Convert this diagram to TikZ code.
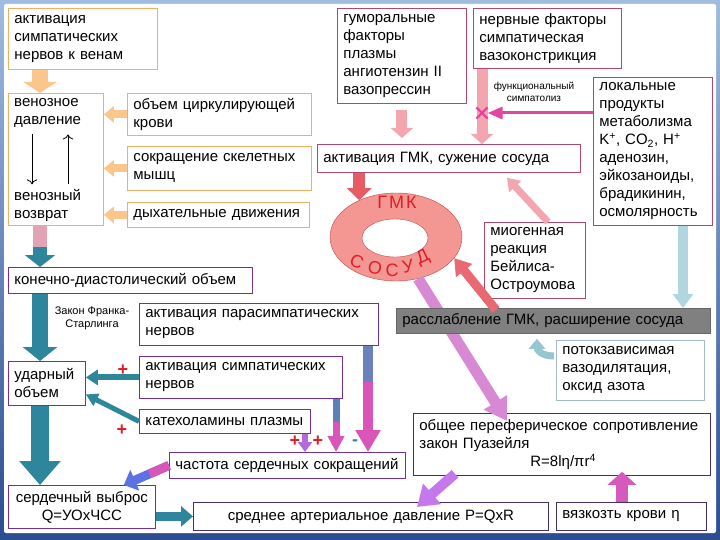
\documentclass[tikz,border=0pt]{standalone}
\usepackage{fontspec}
\setmainfont{Liberation Sans}
\usetikzlibrary{shapes.geometric, shapes.misc, arrows.meta, calc, backgrounds}
\definecolor{CVOrange}{RGB}{240,176,100}
\definecolor{CVOrangeArr}{RGB}{250,198,140}
\definecolor{CVRose}{RGB}{176,72,110}
\definecolor{CVPink}{RGB}{244,166,174}
\definecolor{CVPurple}{RGB}{112,48,160}
\definecolor{CVNavy}{RGB}{64,48,100}
\definecolor{CVTeal}{RGB}{46,134,156}
\definecolor{CVMag}{RGB}{226,70,160}
\definecolor{CVViolet}{RGB}{196,120,236}
\definecolor{CVRed}{RGB}{220,30,40}
\definecolor{CVRing}{RGB}{244,150,146}
\definecolor{CVRingLine}{RGB}{190,70,70}
\definecolor{CVSky}{RGB}{176,214,224}
\definecolor{CVGray}{RGB}{128,128,128}
\definecolor{CVFrameTop}{RGB}{160,188,224}
\definecolor{CVFrameBot}{RGB}{44,76,146}

\begin{document}
\begin{tikzpicture}[x=1pt, y=-1pt,
    box/.style={rectangle, draw, fill=white, anchor=north west, align=left,
                inner xsep=6pt, inner ysep=3pt, line width=0.8pt,
                font=\fontsize{15}{18}\selectfont},
    obox/.style={box, draw=CVOrange},
    rbox/.style={box, draw=CVRose},
    vbox/.style={box, draw=CVPurple},
    nbox/.style={box, draw=CVNavy},
    txt/.style={inner sep=1pt, align=left, font=\fontsize{15}{18}\selectfont},
    blk/.style n args={3}{line width=#1, -{Triangle[width=#2, length=#3]}},
    thinarr/.style={-{To[length=5pt]}, line width=0.8pt},
    sgn/.style={font=\bfseries\fontsize{18}{18}\selectfont}
  ]
  \useasboundingbox (0,0) rectangle (720,540);
  % slide frame
  \begin{pgfonlayer}{background}
    \shade[top color=CVFrameTop, bottom color=CVFrameBot] (0,0) rectangle (720,540);
    \fill[white, rounded corners=2pt] (4,4) rectangle (716,533);
  \end{pgfonlayer}

  % venous side
  \node[obox, text width=137pt, minimum height=61pt] (akt) at (8,8)
       {активация\\симпатических\\нервов к венам};
  \node[obox, minimum width=95pt, minimum height=132pt] (ven) at (8,93) {};
  \node[txt, anchor=north west] (vd) at (13,97) {венозное\\давление};
  \node[txt, anchor=south west] (vv) at (13,223) {венозный\\возврат};
  \draw[thinarr] ($(vd.south west)+(19,6)$) -- ($(vv.north west)+(19,-4)$);
  \draw[thinarr] ($(vv.north west)+(55,-4)$) -- ($(vd.south west)+(55,6)$);
  \node[obox, text width=172pt, minimum height=42pt] (ocr) at (127,93)
       {объем циркулирующей\\крови};
  \node[obox, text width=172pt, minimum height=44pt] (skm) at (127,146)
       {сокращение скелетных\\мышц};
  \node[obox, text width=170pt, minimum height=25pt] (dyx) at (127,202)
       {дыхательные движения};

  % vessel tone
  \node[rbox, text width=117pt, minimum height=95pt] (gum) at (337,8)
       {гуморальные\\факторы\\плазмы\\ангиотензин II\\вазопрессин};
  \node[rbox, text width=136pt, minimum height=60pt] (nerv) at (473,8)
       {нервные факторы\\симпатическая\\вазоконстрикция};
  \node[rbox, text width=107pt, minimum height=148pt] (lok) at (593,77)
       {локальные\\продукты\\метаболизма\\K\textsuperscript{+}, CO\textsubscript{2}, H\textsuperscript{+}\\аденозин,\\эйкозаноиды,\\брадикинин,\\осмолярность};
  \node[rbox, text width=251pt, minimum height=28pt] (gmk) at (317,144)
       {активация ГМК, сужение сосуда};
  \node[rbox, text width=89pt, minimum height=76pt] (miog) at (484,222)
       {миогенная\\реакция\\Бейлиса-\\Остроумова};
  \node[box, draw=CVSky!70!gray, text width=136pt, minimum height=60pt] (potok) at (556,340)
       {потокзависимая\\вазодилятация,\\оксид азота};
  \node[nbox, text width=285pt, minimum height=62pt] (ops) at (413,413)
       {общее переферическое сопротивление\\закон Пуазейля\\\hspace*{111pt}R=8lη/πr\textsuperscript{4}};
  \node[nbox, text width=138pt, minimum height=28pt] (vyaz) at (556,502)
       {вязкозть крови η};
  \node[nbox, align=center, text width=343pt, minimum height=28pt] (sad) at (193,502)
       {среднее артериальное давление P=QxR};

  % heart side
  \node[vbox, text width=232pt, minimum height=26pt] (kdo) at (8,267)
       {конечно-диастолический объем};
  \node[vbox, text width=65pt, minimum height=44pt] (uo) at (8,361)
       {ударный\\объем};
  \node[vbox, text width=227pt, minimum height=42pt] (para) at (139,303)
       {активация парасимпатических\\нервов};
  \node[vbox, text width=191pt, minimum height=42pt] (simp) at (139,356)
       {активация симпатических\\нервов};
  \node[vbox, text width=159pt, minimum height=24pt] (kat) at (139,409)
       {катехоламины плазмы};
  \node[vbox, text width=224pt, minimum height=26pt] (chss) at (169,452)
       {частота сердечных сокращений};
  \node[vbox, align=center, text width=135pt, minimum height=43pt] (sv) at (8,485)
       {сердечный выброс\\Q=УОxЧСС};

  \coordinate (lx) at (40,0);
  \coordinate (lb) at (683,0);
  \coordinate (nv) at ($(nerv.south west)+(9,0)$);
  \coordinate (ly) at ($(lok.north west)+(0,36)$);

  % orange arrows
  \draw[blk={16pt}{33pt}{11pt}, CVOrangeArr] (akt.south -| lx) -- (ven.north -| lx);
  \foreach \n in {ocr, skm, dyx}
    \draw[blk={8pt}{16pt}{10pt}, CVOrangeArr] (\n.west) -- (\n.west -| ven.east);

  % vessel ring
  \node[ellipse, draw=CVRingLine, fill=CVRing, minimum width=132pt, minimum height=88pt] (ring) at (396,237) {};
  \node[ellipse, draw=CVRingLine, fill=white, minimum width=66pt, minimum height=38pt] (hole) at (395,238) {};
  \draw[blk={11pt}{26pt}{22pt}, CVViolet!60!CVPink] (ring.-62) -- ($(ops.north west)+(94,8)$);
  \node[box, fill=CVGray, draw=CVGray!80!black, text width=302pt, minimum height=25pt] (rass) at (396,308)
       {расслабление ГМК, расширение сосуда};
  \node[text=CVRed, font=\fontsize{18}{18}\selectfont] (gmkt) at (397,202) {Г\kern2pt М\kern2pt К};
  \foreach \l/\x/\y/\a [count=\i] in {С/357/262/-25, О/375/268/-12, С/392/270/0, У/408/266/12, Д/423/258/25}
    \node[text=CVRed, font=\fontsize{18}{18}\selectfont, rotate=\a] (sos\i) at (\x,\y) {\l};

  % pink arrows
  \draw[blk={11pt}{22pt}{10pt}, CVPink, shorten <=6pt, shorten >=6pt] (gum.south) -- (gum.south |- gmk.north);
  \draw[blk={11pt}{22pt}{10pt}, CVPink] (nv) -- (nv |- gmk.north);
  \node[cross out, draw=CVMag, line width=2.2pt, minimum size=9pt, inner sep=0pt] (sx) at (nv |- ly) {};
  \draw[CVMag, line width=3pt, -{Triangle[width=12pt, length=15pt]}] (ly) -- (sx.east);
  \node[font=\fontsize{10}{12}\selectfont, align=center] (fsl) at (534,92) {функциональный\\симпатолиз};
  \draw[blk={12pt}{24pt}{12pt}, CVRed!55!CVPink] (gmk.south -| ring.135) -- (ring.135);
  \draw[blk={7pt}{16pt}{12pt}, CVPink] ($(miog.north west)+(64,0)$) -- ($(gmk.south west)+(190,5)$);
  \draw[blk={9pt}{20pt}{16pt}, CVRed!45!CVPink] ($(rass.north west)+(100,2)$) -- (ring.-20);

  % dilation
  \draw[blk={10pt}{20pt}{14pt}, CVSky] (lok.south -| lb) -- (lb |- rass.north);
  \draw[CVSky!80!CVTeal, line width=7pt, -{Triangle[width=16pt, length=10pt]}]
       ($(potok.north west)+(-2,16)$) .. controls +(-14,0) and +(0,10) .. ($(rass.south west)+(141,5)$);

  % resistance, pressure
  \draw[blk={10pt}{26pt}{20pt}, CVViolet] ($(ops.south west)+(42,-2)$) -- ($(sad.north west)+(224,5)$);
  \draw[blk={12pt}{28pt}{13pt}, CVMag!60!CVViolet] ($(vyaz.north west)+(66,0)$) -- ($(ops.south west)+(209,-4)$);

  % heart arrows
  \draw[blk={14pt}{30pt}{12pt}, CVTeal] (ven.south -| lx) -- (kdo.north -| lx);
  \draw[line width=14pt, CVViolet!45!CVOrangeArr, shorten >=20pt] (ven.south -| lx) -- (kdo.north -| lx);
  \draw[blk={16pt}{34pt}{14pt}, CVTeal] (kdo.south -| lx) -- (uo.north -| lx);
  \node[font=\fontsize{11}{13}\selectfont, align=center] (fsz) at (92,318) {Закон Франка-\\Старлинга};
  \draw[blk={18pt}{40pt}{24pt}, CVTeal] (uo.south -| lx) -- (sv.north -| lx);
  \draw[blk={6pt}{15pt}{12pt}, CVTeal] (simp.west) -- (simp.west -| uo.east);
  \draw[blk={5pt}{13pt}{12pt}, CVTeal] (kat.west) -- ($(uo.east)+(0,11)$);
  \draw[blk={9pt}{20pt}{12pt}, CVTeal] (sad.west -| sv.east) -- (sad.west);

  \coordinate (c1) at (305,0);
  \coordinate (c2) at (336,0);
  \coordinate (c3) at (368,0);
  \draw[blk={10pt}{24pt}{22pt}, CVMag!70!CVViolet] (para.south -| c3) -- (chss.north -| c3);
  \draw[line width=10pt, CVTeal!60!CVViolet, shorten >=70pt] (para.south -| c3) -- (chss.north -| c3);
  \draw[blk={7pt}{16pt}{16pt}, CVMag!70!CVViolet] (simp.south -| c2) -- (chss.north -| c2);
  \draw[line width=7pt, CVTeal!70!CVViolet, shorten >=30pt] (simp.south -| c2) -- (chss.north -| c2);
  \draw[blk={6pt}{14pt}{10pt}, CVViolet!80!CVPurple] (kat.south -| c1) -- (chss.north -| c1);
  \draw[blk={9pt}{22pt}{12pt}, CVTeal!40!blue!70!white] (chss.west) -- ($(sv.north east)+(-32,0)$);
  \draw[line width=9pt, CVMag!70!CVViolet, shorten >=28pt] (chss.west) -- ($(sv.north east)+(-32,0)$);

  % signs
  \foreach \p/\x/\y/\s/\c in {pa/123/370/+/CVRed, pb/122/430/+/CVRed, pc/295/441/+/CVRed,
                              pd/318/441/+/CVRed, pe/355/443/-/CVTeal}
    \node[sgn, text=\c] (\p) at (\x,\y) {\s};
\end{tikzpicture}
\end{document}
